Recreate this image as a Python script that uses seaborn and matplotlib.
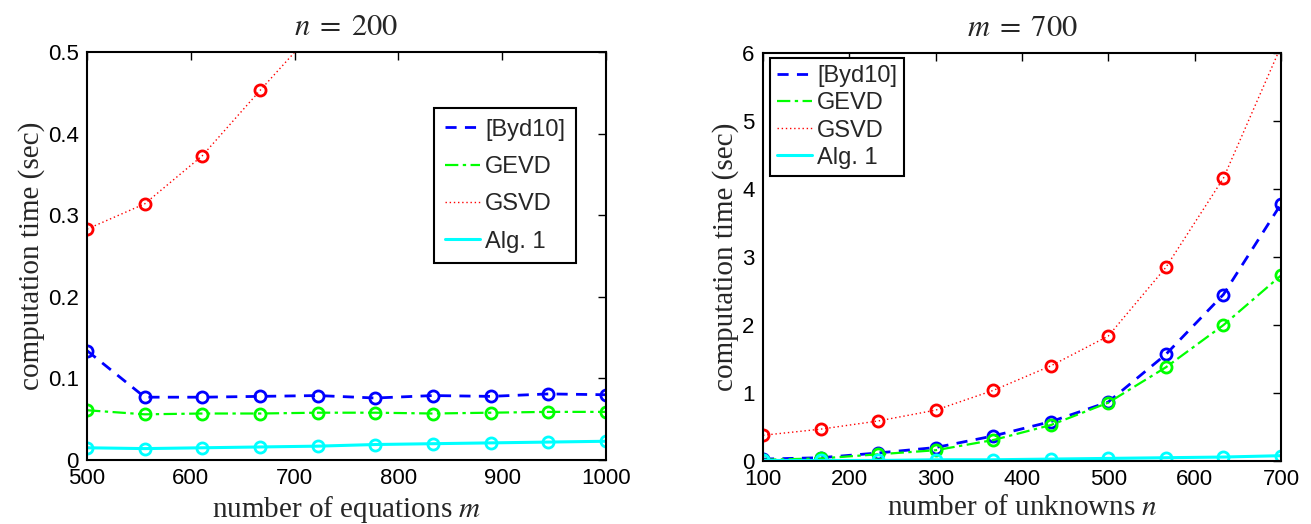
import pandas as pd
import matplotlib.pyplot as plt
import seaborn as sns
from matplotlib.lines import Line2D

sns.set_theme(style="white")
plt.rcParams['font.family'] = ['Liberation Sans', 'DejaVu Sans']
plt.rcParams['mathtext.fontset'] = 'stix'

# n = 200, number of equations m
m_vals = [500, 555.6, 611.1, 666.7, 722.2, 777.8, 833.3, 888.9, 944.4, 1000]
left_byd = [0.134, 0.077, 0.077, 0.078, 0.079, 0.076, 0.079, 0.078, 0.081, 0.080]
left_gevd = [0.061, 0.056, 0.057, 0.057, 0.058, 0.058, 0.057, 0.058, 0.059, 0.059]
left_gsvd = [0.283, 0.314, 0.373, 0.453, 0.531, 0.61, 0.70, 0.79, 0.89, 1.00]
left_alg = [0.015, 0.014, 0.015, 0.016, 0.017, 0.019, 0.020, 0.021, 0.022, 0.023]

# m = 700, number of unknowns n
n_vals = [100, 166.7, 233.3, 300, 366.7, 433.3, 500, 566.7, 633.3, 700]
right_byd = [0.03, 0.05, 0.12, 0.20, 0.37, 0.58, 0.87, 1.57, 2.45, 3.78]
right_gevd = [0.02, 0.04, 0.10, 0.16, 0.31, 0.53, 0.86, 1.38, 2.00, 2.73]
right_gsvd = [0.38, 0.47, 0.59, 0.75, 1.04, 1.40, 1.84, 2.85, 4.16, 6.10]
right_alg = [0.01, 0.01, 0.01, 0.02, 0.02, 0.03, 0.04, 0.05, 0.06, 0.08]

labels = ["[Byd10]", "GEVD", "GSVD", "Alg. 1"]
colors = ["#0000ff", "#00ff00", "#ff0000", "#00ffff"]
styles = [(0, (4, 3)), (0, (6, 2, 1.5, 2)), (0, (1, 2)), "-"]
widths = [2.0, 1.6, 1.0, 2.2]

fig = plt.figure(figsize=(13.11, 5.24), dpi=100)
ax1 = fig.add_axes([0.0664, 0.1221, 0.3959, 0.7786])
ax2 = fig.add_axes([0.582, 0.120, 0.3951, 0.7786])

serif = "Liberation Serif"


def draw(ax, x, series):
    for y, c, ls, lw in zip(series, colors, styles, widths):
        df = pd.DataFrame({"x": x, "y": y})
        sns.lineplot(ax=ax, data=df, x="x", y="y", color=c, linestyle=ls, linewidth=lw,
                     marker="o", markersize=8, markerfacecolor="none", markeredgecolor=c,
                     markeredgewidth=2)
    ax.tick_params(direction="in", top=True, right=True, length=6, width=1,
                   labelsize=16, pad=6, colors="black")
    for s in ax.spines.values():
        s.set_color("black")
        s.set_linewidth(1.5)
    ax.set_ylabel("computation time (sec)", fontsize=21, family=serif, labelpad=2)


def add_legend(ax, anchor, spacing, pad):
    handles = [Line2D([], [], color=c, linestyle=ls, linewidth=lw)
               for c, ls, lw in zip(colors, styles, widths)]
    leg = ax.legend(handles, labels, loc="upper left", bbox_to_anchor=anchor, fontsize=17,
                    frameon=True, fancybox=False, edgecolor="black", handlelength=1.5,
                    labelspacing=spacing, borderpad=pad, handletextpad=0.2, borderaxespad=0)
    leg.get_frame().set_linewidth(1.5)
    leg.get_frame().set_alpha(1)


draw(ax1, m_vals, [left_byd, left_gevd, left_gsvd, left_alg])
ax1.set_xlim(500, 1000)
ax1.set_ylim(0, 0.5)
ax1.set_xticks([500, 600, 700, 800, 900, 1000])
ax1.set_yticks([0, 0.1, 0.2, 0.3, 0.4, 0.5])
ax1.set_yticklabels(["0", "0.1", "0.2", "0.3", "0.4", "0.5"])
ax1.set_xlabel("number of equations $m$", fontsize=21, family=serif, labelpad=3)
ax1.set_title(r"$n\;=\;200$", fontsize=22, pad=12)
add_legend(ax1, (0.669, 0.863), 0.65, 0.45)

draw(ax2, n_vals, [right_byd, right_gevd, right_gsvd, right_alg])
ax2.set_xlim(100, 700)
ax2.set_ylim(0, 6)
ax2.set_xticks([100, 200, 300, 400, 500, 600, 700])
ax2.set_yticks([0, 1, 2, 3, 4, 5, 6])
ax2.set_xlabel("number of unknowns $n$", fontsize=21, family=serif, labelpad=3)
ax2.set_title(r"$m\;=\;700$", fontsize=22, pad=12)
add_legend(ax2, (0.0135, 0.988), 0.22, 0.3)

plt.savefig("out.png", dpi=100)
